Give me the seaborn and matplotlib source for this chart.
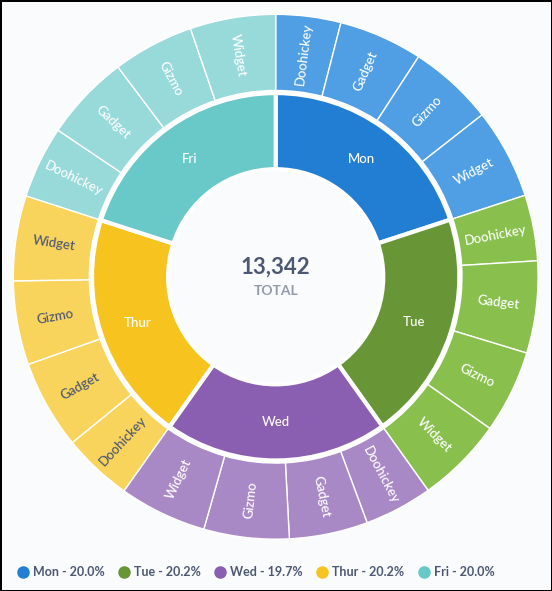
import matplotlib
matplotlib.use("Agg")
import matplotlib.pyplot as plt
import seaborn as sns
import numpy as np
from matplotlib.lines import Line2D

# data
days = ["Mon", "Tue", "Wed", "Thur", "Fri"]
products = ["Doohickey", "Gadget", "Gizmo", "Widget"]
mon = [534, 689, 700, 742]
tue = [541, 756, 682, 711]
wed = [560, 645, 700, 720]
thur = [574, 730, 689, 699]
fri = [593, 708, 667, 702]
by_day = [mon, tue, wed, thur, fri]

inner_colors = ["#227ED3", "#689636", "#8A5EB0", "#F7C41F", "#69C8C8"]
outer_colors = ["#509EE3", "#88BF4D", "#A989C5", "#F9D45C", "#98D9D9"]
outer_text = ["white", "white", "white", "#4C5773", "white"]

day_totals = [sum(v) for v in by_day]
total = sum(day_totals)
outer_vals = [x for v in by_day for x in v]

bg = "#F9FBFD"
sns.set_theme(style="white")
plt.rcParams["font.family"] = ["Lato", "DejaVu Sans"]

fig = plt.figure(figsize=(5.52, 5.91), dpi=100, facecolor=bg)
fig.patch.set_edgecolor("black")
fig.patch.set_linewidth(2)
ax = fig.add_axes([0.0239, 0.0877, 0.951, 0.888])
ax.set_facecolor(bg)

# outer ring: products per day
o_cols = [outer_colors[i] for i in range(len(days)) for _ in products]
ax.pie(outer_vals, radius=1.0, colors=o_cols, startangle=90, counterclock=False,
       wedgeprops=dict(width=0.29, edgecolor="white", linewidth=1))

# inner ring: days
ax.pie(day_totals, radius=0.70, colors=inner_colors, startangle=90, counterclock=False,
       wedgeprops=dict(width=0.29, edgecolor="white", linewidth=3))

ax.set_xlim(-1, 1)
ax.set_ylim(-1, 1)
ax.set_aspect("equal")
ax.axis("off")

# inner labels
cum = 0
for d, v in zip(days, day_totals):
    mid = (cum + v / 2) / total * 360
    cum += v
    a = np.deg2rad(90 - mid)
    ax.text(0.555 * np.cos(a), 0.555 * np.sin(a), d, ha="center", va="center",
            color="white", fontsize=9.5, fontweight="medium")

# outer labels, rotated along the radius
cum = 0
for i, v in enumerate(by_day):
    for p, x in zip(products, v):
        mid = (cum + x / 2) / total * 360
        cum += x
        a = np.deg2rad(90 - mid)
        rot = 90 - mid
        while rot < -90:
            rot += 180
        while rot > 90:
            rot -= 180
        ax.text(0.855 * np.cos(a), 0.855 * np.sin(a), p, ha="center", va="center",
                rotation=rot, rotation_mode="anchor", color=outer_text[i],
                fontsize=9.5, fontweight="medium")

# centre total
ax.text(0, 0.035, f"{total:,}", ha="center", va="center", color="#4C5773",
        fontsize=16, fontweight="bold")
ax.text(0, -0.055, "TOTAL", ha="center", va="center", color="#949AAB",
        fontsize=10, fontweight="bold")

handles = [Line2D([], [], marker="o", linestyle="", markersize=8,
                  markerfacecolor=c, markeredgecolor=c) for c in inner_colors]
labels = [f"{d} - {v / total * 100:.1f}%" for d, v in zip(days, day_totals)]
leg = fig.legend(handles, labels, loc="center left", bbox_to_anchor=(0.010, 0.032),
                 ncol=5, frameon=False, handletextpad=0.3, columnspacing=1.05,
                 handlelength=1.0, prop=dict(size=9, weight="bold"))
for t in leg.get_texts():
    t.set_color("#4C5773")

fig.savefig("out.png", dpi=100, facecolor=bg, edgecolor="black")
